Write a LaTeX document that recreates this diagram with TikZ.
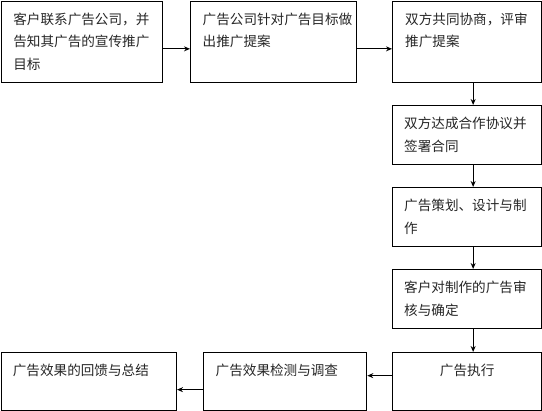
\documentclass[tikz,border=0pt]{standalone}
\usepackage{fontspec}
\setmainfont{Noto Sans CJK SC}
\usetikzlibrary{arrows.meta}
\begin{document}
\begin{tikzpicture}[x=1pt,y=-1pt,
  box/.style={draw=black,line width=1.3pt,rectangle,inner sep=0pt,anchor=north west},
  txt/.style={inner sep=0pt,anchor=north west,align=left,font=\fontsize{13.6pt}{22.5pt}\selectfont,text=black!85},
  conn/.style={line width=1.1pt,-{Stealth[length=6pt,width=5pt]}}]
\useasboundingbox (0,0) rectangle (542,411);
% boxes
\node[box,minimum width=161pt,minimum height=81pt] (b1) at (0.7,0.7) {};
\node[box,minimum width=166pt,minimum height=81pt] (b2) at (190,0.7) {};
\node[box,minimum width=149pt,minimum height=81pt] (b3) at (392,0.7) {};
\node[box,minimum width=149pt,minimum height=59pt] (b4) at (392,105) {};
\node[box,minimum width=149pt,minimum height=59pt] (b5) at (392,187) {};
\node[box,minimum width=149pt,minimum height=59pt] (b6) at (392,269) {};
\node[box,minimum width=149pt,minimum height=58pt] (b7) at (392,352) {};
\node[box,minimum width=163pt,minimum height=58pt] (b8) at (203,352) {};
\node[box,minimum width=175pt,minimum height=58pt] (b9) at (0.7,352) {};
% texts
\node[txt] (t1) at ([shift={(12.5,12)}]b1.north west) {客户联系广告公司，并\\告知其广告的宣传推广\\目标};
\node[txt] (t2) at ([shift={(12.5,12)}]b2.north west) {广告公司针对广告目标做\\出推广提案};
\node[txt] (t3) at ([shift={(13,12)}]b3.north west) {双方共同协商，评审\\推广提案};
\node[txt] (t4) at ([shift={(12,12)}]b4.north west) {双方达成合作协议并\\签署合同};
\node[txt] (t5) at ([shift={(12,12)}]b5.north west) {广告策划、设计与制\\作};
\node[txt] (t6) at ([shift={(12,12)}]b6.north west) {客户对制作的广告审\\核与确定};
\node[txt,anchor=north] (t7) at ([shift={(0,12)}]b7.north) {广告执行};
\node[txt] (t8) at ([shift={(12.5,12)}]b8.north west) {广告效果检测与调查};
\node[txt] (t9) at ([shift={(12,12)}]b9.north west) {广告效果的回馈与总结};
% connectors
\draw[conn] ([yshift=-7]b1.east) -- ([yshift=-7]b2.west);
\draw[conn] ([yshift=-7]b2.east) -- ([yshift=-7]b3.west);
\draw[conn] ([xshift=6]b3.south) -- ([xshift=6]b4.north);
\draw[conn] ([xshift=6]b4.south) -- ([xshift=6]b5.north);
\draw[conn] ([xshift=6]b5.south) -- ([xshift=6]b6.north);
\draw[conn] ([xshift=6]b6.south) -- ([xshift=6]b7.north);
\draw[conn] ([yshift=6]b7.west) -- ([yshift=6]b8.east);
\draw[conn] ([yshift=-8]b8.west) -- ([yshift=-8]b9.east);
\end{tikzpicture}
\end{document}
